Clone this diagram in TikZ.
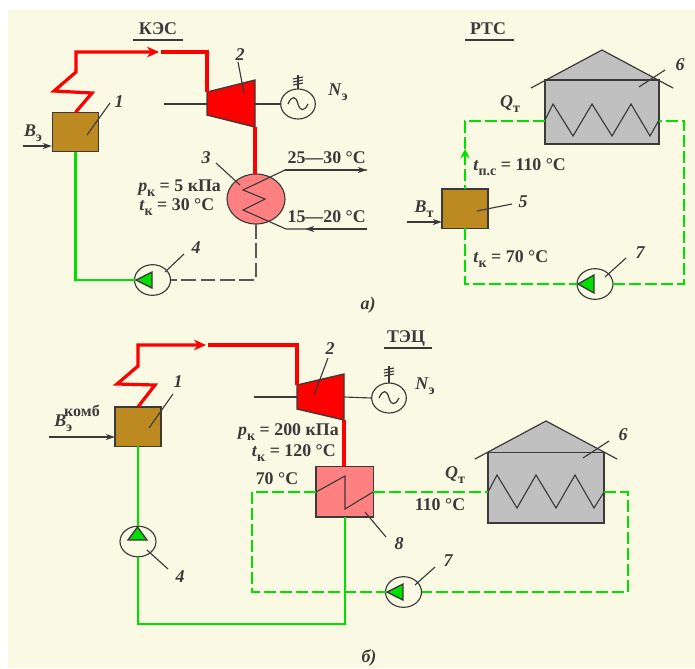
\documentclass[tikz,border=0pt]{standalone}
\usepackage{fontspec}
\setmainfont{Liberation Serif}
\usetikzlibrary{arrows.meta,calc,shapes.geometric}
\definecolor{bgc}{HTML}{FAF9E3}
\definecolor{ink}{HTML}{3A3A3A}
\definecolor{steam}{HTML}{FF0000}
\definecolor{water}{HTML}{00E000}
\definecolor{brownb}{HTML}{BC8A20}
\definecolor{pinkb}{HTML}{FF8080}
\definecolor{greyb}{HTML}{C0C0C0}
\newcommand{\lowtxt}[1]{\smash{\raisebox{-0.26em}{\fontsize{10.5}{10}\selectfont #1}}}
\tikzset{
 boiler/.style={draw=ink,fill=brownb,line width=1pt,minimum width=34.5pt,minimum height=29.5pt,inner sep=0pt,outer sep=0pt},
 pumpc/.style={ellipse,draw=ink,fill=bgc,line width=.85pt,minimum width=27pt,minimum height=23pt,inner sep=0pt,outer sep=0pt},
 genc/.style={ellipse,draw=ink,fill=bgc,line width=.85pt,minimum width=26pt,minimum height=22.5pt,inner sep=0pt,outer sep=0pt},
 tri/.style={draw=ink,fill=water,line width=1pt,line join=miter},
 steamline/.style={draw=steam,line width=2.4pt,line join=miter},
 solidw/.style={draw=water,line width=2.1pt},
 dashw/.style={draw=water,line width=2.1pt,dash pattern=on 9pt off 3pt},
 dashg/.style={draw=ink!85,line width=1.3pt,dash pattern=on 11pt off 3.5pt},
 thinl/.style={draw=ink,line width=.85pt},
 wall/.style={draw=ink,fill=greyb,line width=1pt},
 txt/.style={font=\fontsize{13.4}{15}\selectfont\bfseries,text=ink,inner sep=0pt,align=center},
 num/.style={font=\fontsize{13.5}{15}\selectfont\bfseries\itshape,text=ink,inner sep=0pt},
 flow/.style={-{Stealth[length=7pt,width=4.5pt]}},
}
\begin{document}
\begin{tikzpicture}[x=0.75pt,y=-0.75pt]
\useasboundingbox (0,0) rectangle (695,668);
\fill[white] (0,0) rectangle (695,668);
\fill[bgc] (8,10) rectangle (695,668);

% ===== a) KES =====
\node[txt] (tKES) at (158,29) {КЭС};
\coordinate (uK1) at (133,40); \coordinate (uK2) at (183,40);
\draw[thinl] (uK1) -- (uK2);
\node[boiler] (b1) at (75.5,132) {};
\node[pumpc] (p4) at (152.5,280) {};
\node[genc] (g1) at (298,104) {};
\node[ellipse,draw=ink,fill=pinkb,line width=.85pt,minimum width=43.5pt,minimum height=37.5pt,inner sep=0pt,outer sep=0pt] (c3) at (256,199) {};
% turbine
\coordinate (t1a) at (207,92); \coordinate (t1b) at (255,80); \coordinate (t1c) at (255,127); \coordinate (t1d) at (207,115);
\draw[draw=ink,fill=steam,line width=1pt] (t1a)--(t1b)--(t1c)--(t1d)--cycle;
% steam
\coordinate (s1) at (92,93); \coordinate (s2) at (54,91); \coordinate (s3) at (76,72); \coordinate (s4) at (76,52);
\coordinate (s5) at (159,52); \coordinate (s6) at (161,52); \coordinate (s7) at (207,52);
\draw[steamline,-{Stealth[length=9pt,width=8pt]}] (b1.north) -- (s1) -- (s2) -- (s3) -- (s4) -- (s5);
\draw[steamline] (s6) -- (s7) -- (t1a);
\draw[steamline] (t1c) -- (c3.north -| t1c);
% shaft
\coordinate (sh1) at (164,104); \coordinate (sh1r) at (207,104); \coordinate (sh1s) at (255,104);
\draw[thinl] (sh1) -- (sh1r);
\draw[thinl] (sh1s) -- (g1.west);
% ground
\coordinate (gt1) at (298,75);
\draw[thinl] (g1.north) -- (gt1);
\foreach \yy in {78,81,84} {\draw[thinl] (293,\yy+1) -- (303,\yy-1);}
\draw[thinl,line width=.9pt] (288,104) .. controls (292,95) and (296,96) .. (298,104) .. controls (300,111) and (304,112) .. (308,104);
% condenser
\coordinate (cz1) at (367,170); \coordinate (cz2) at (285,170); \coordinate (cz3) at (243,190); \coordinate (cz4) at (265,199);
\coordinate (cz5) at (243,210); \coordinate (cz6) at (286,229); \coordinate (cz7) at (367,229); \coordinate (czm) at (305,229);
\draw[thinl] (cz7) -- (cz6) -- (cz5) -- (cz4) -- (cz3) -- (cz2) -- (cz1);
\draw[thinl,flow] (cz2) -- (cz1);
\draw[thinl,flow] (cz7) -- (czm);
% water
\draw[solidw] (b1.south) |- (p4.west);
\coordinate (dg) at (256,280);
\draw[dashg] (c3.south -| dg) -- (dg) -- (p4.east);
\coordinate (p4a) at (136,280); \coordinate (p4b) at (152,272); \coordinate (p4c) at (152,288);
\draw[tri] (p4a)--(p4b)--(p4c)--cycle;
% fuel
\coordinate (f1) at (23,146); \coordinate (f1e) at (52,146);
\draw[thinl,flow] (f1) -- (f1e);
\node[txt] at (33,131) (lBe) {\textit{B}\lowtxt{э}};
\node[txt,anchor=east] at (366,158) (l2530) {25—30 °C};
\node[txt,anchor=east] at (366,217) (l1520) {15—20 °C};
\node[txt,anchor=west] at (138,188) (lpk) {\textit{p}\lowtxt{к} = 5 кПа};
\node[txt,anchor=west] at (139,205) (ltk) {\textit{t}\lowtxt{к} = 30 °C};
\node[txt] at (338,90) (lNe) {\textit{N}\lowtxt{э}};
\node[num] at (119,102) (n1a) {1};
\node[num] at (240,55) (n2a) {2};
\node[num] at (206,158) (n3a) {3};
\node[num] at (196,248) (n4a) {4};
\node[num] at (368,305) (na) {а)};
\coordinate (a1) at (110,103); \coordinate (a1e) at (87,135);
\coordinate (a2) at (238,62); \coordinate (a2e) at (244,93);
\coordinate (a3) at (216,163); \coordinate (a3e) at (240,185);
\coordinate (a4) at (184,254); \coordinate (a4e) at (165,272);
\draw[thinl] (a1)--(a1e); \draw[thinl] (a2)--(a2e); \draw[thinl] (a3)--(a3e); \draw[thinl] (a4)--(a4e);

% ===== RTS =====
\node[txt] (tRTS) at (488,29) {РТС};
\coordinate (uR1) at (465,40); \coordinate (uR2) at (514,40);
\draw[thinl] (uR1) -- (uR2);
\fill[greyb] (545,80) -- (602,50) -- (659,80) -- cycle;
\node[wall,minimum width=85.5pt,minimum height=48pt,inner sep=0pt,outer sep=0pt] (h6) at (602,112) {};
\coordinate (r1) at (531,88); \coordinate (r2) at (602,50); \coordinate (r3) at (673,88);
\draw[thinl,line width=.9pt] (r1)--(r2)--(r3);
\draw[thinl] (545,120)--(553,104)--(573,136)--(592,104)--(612,136)--(631,104)--(650,136)--(659,120);
\node[boiler] (b5) at (465,208.5) {};
\node[pumpc] (p7) at (595,284) {};
\coordinate (w1) at (465,121); \coordinate (w1h) at (545,121); \coordinate (w1m) at (465,149); \coordinate (w1b) at (465,160);
\coordinate (w2) at (465,284); \coordinate (w3) at (684,284); \coordinate (w4) at (684,121); \coordinate (w4h) at (659,121);
\draw[dashw] (w1h) -- (w1) -- (b5.north);
\draw[water,line width=2.1pt,-{Stealth[length=7pt,width=7pt]}] (w1b) -- (w1m);
\draw[dashw] (b5.south) -- (w2) -- (p7.west);
\draw[dashw] (p7.east) -- (w3) -- (w4) -- (w4h);
\coordinate (p7a) at (578,284); \coordinate (p7b) at (594,275); \coordinate (p7c) at (594,293);
\draw[tri] (p7a)--(p7b)--(p7c)--cycle;
\coordinate (f5) at (407,222); \coordinate (f5e) at (442,222);
\draw[thinl,flow] (f5) -- (f5e);
\node[txt] at (424,207) (lBt) {\textit{B}\lowtxt{т}};
\node[txt] at (510,103) (lQt) {\textit{Q}\lowtxt{т}};
\node[txt,anchor=west] at (473,165) (ltps) {\textit{t}\lowtxt{п.с} = 110 °C};
\node[txt,anchor=west] at (473,257) (ltk70) {\textit{t}\lowtxt{к} = 70 °C};
\node[num] at (680,65) (n6a) {6};
\node[num] at (523,202) (n5) {5};
\node[num] at (640,253) (n7a) {7};
\coordinate (a6) at (665,70); \coordinate (a6e) at (639,87);
\coordinate (a5) at (512,204); \coordinate (a5e) at (477,211);
\coordinate (a7) at (626,258); \coordinate (a7e) at (605,277);
\draw[thinl] (a6)--(a6e); \draw[thinl] (a5)--(a5e); \draw[thinl] (a7)--(a7e);

% ===== b) TETs =====
\node[txt] (tTEC) at (406,338) {ТЭЦ};
\coordinate (uT1) at (384,348); \coordinate (uT2) at (432,348);
\draw[thinl] (uT1) -- (uT2);
\node[boiler] (b1b) at (138,426.5) {};
\node[pumpc] (p4b) at (138,541.5) {};
\node[genc] (g2) at (389,398) {};
\node[draw=ink,fill=pinkb,line width=1pt,minimum width=43pt,minimum height=38pt,inner sep=0pt,outer sep=0pt] (h8) at (344.5,491.5) {};
\coordinate (t2a) at (297,385); \coordinate (t2b) at (344,374); \coordinate (t2c) at (344,420); \coordinate (t2d) at (297,409);
\draw[draw=ink,fill=steam,line width=1pt] (t2a)--(t2b)--(t2c)--(t2d)--cycle;
\coordinate (q1) at (155,385); \coordinate (q2) at (117,384); \coordinate (q3) at (138,366); \coordinate (q4) at (138,345);
\coordinate (q5) at (206,345); \coordinate (q6) at (208,345); \coordinate (q7) at (297,345);
\draw[steamline,-{Stealth[length=9pt,width=8pt]}] (b1b.north) -- (q1) -- (q2) -- (q3) -- (q4) -- (q5);
\draw[steamline] (q6) -- (q7) -- (t2a);
\draw[steamline] (t2c) -- (h8.north -| t2c);
\coordinate (sh2) at (254,397); \coordinate (sh2r) at (297,397); \coordinate (sh2s) at (344,397);
\draw[thinl] (sh2) -- (sh2r);
\draw[thinl] (sh2s) -- (g2.west);
\coordinate (gt2) at (389,366);
\draw[thinl] (g2.north) -- (gt2);
\foreach \yy in {369,372,375} {\draw[thinl] (384,\yy+1) -- (394,\yy-1);}
\draw[thinl,line width=.9pt] (379,398) .. controls (383,389) and (387,390) .. (389,398) .. controls (391,405) and (395,406) .. (399,398);
% heat exchanger zigzag
\coordinate (hz1) at (316,492); \coordinate (hz2) at (345,476); \coordinate (hz3) at (345,509); \coordinate (hz4) at (373,492);
\draw[thinl] (hz1)--(hz2)--(hz3)--(hz4);
% house
\fill[greyb] (488,452) -- (546,421) -- (604,452) -- cycle;
\node[wall,minimum width=87pt,minimum height=53pt,inner sep=0pt,outer sep=0pt] (h6b) at (546,487.5) {};
\coordinate (rb1) at (475,459); \coordinate (rb2) at (546,421); \coordinate (rb3) at (617,459);
\draw[thinl,line width=.9pt] (rb1)--(rb2)--(rb3);
\draw[thinl] (488,492)--(497,475)--(517,508)--(536,475)--(556,508)--(575,475)--(594,508)--(604,492);
% water
\node[pumpc] (p7b) at (403.5,592) {};
\coordinate (m1) at (138,624); \coordinate (m2) at (345,624); \coordinate (m3) at (345,510.5);
\draw[solidw] (b1b.south) -- (p4b.north);
\draw[solidw] (p4b.south) -- (m1) -- (m2) -- (m3 |- h8.south);
\coordinate (d1) at (316,492); \coordinate (d2) at (252,492); \coordinate (d3) at (252,592);
\coordinate (d4) at (373,492); \coordinate (d5) at (488,492); \coordinate (d6) at (604,492); \coordinate (d7) at (628,492); \coordinate (d8) at (628,592);
\draw[dashw] (d1) -- (d2) -- (d3) -- (p7b.west);
\draw[dashw] (d4) -- (d5);
\draw[dashw] (d6) -- (d7) -- (d8) -- (p7b.east);
\coordinate (p4ba) at (137.5,527); \coordinate (p4bb) at (128,540); \coordinate (p4bc) at (147,540);
\draw[tri] (p4ba)--(p4bb)--(p4bc)--cycle;
\coordinate (p7ba) at (387,592); \coordinate (p7bb) at (403,584); \coordinate (p7bc) at (403,600);
\draw[tri] (p7ba)--(p7bb)--(p7bc)--cycle;
\coordinate (f2) at (49,437); \coordinate (f2e) at (115,437);
\draw[thinl,flow] (f2) -- (f2e);
\node[txt,anchor=west] at (54,421) (lBk) {\textit{B}\lowtxt{э}\smash{\raisebox{.6em}{\kern-.45em\fontsize{12}{13}\selectfont комб}}};
\node[txt] at (425,384) (lNeb) {\textit{N}\lowtxt{э}};
\node[txt,anchor=east] at (339,431.5) (lpk2) {\textit{p}\lowtxt{к} = 200 кПа};
\node[txt,anchor=east] at (336,450.5) (ltk2) {\textit{t}\lowtxt{к} = 120 °C};
\node[txt] at (277,479) (l70) {70 °C};
\node[txt] at (440,505) (l110) {110 °C};
\node[txt] at (455,474) (lQb) {\textit{Q}\lowtxt{т}};
\node[num] at (178,382) (n1b) {1};
\node[num] at (330,349) (n2b) {2};
\node[num] at (180,577) (n4b) {4};
\node[num] at (623,435) (n6b) {6};
\node[num] at (448,561) (n7b) {7};
\node[num] at (399,544) (n8) {8};
\node[num] at (369,658) (nb) {б)};
\coordinate (e1) at (173,394); \coordinate (e1e) at (149,428);
\coordinate (e2) at (328,358); \coordinate (e2e) at (314,395);
\coordinate (e4) at (168,569); \coordinate (e4e) at (147,550);
\coordinate (e6) at (609,441); \coordinate (e6e) at (583,458);
\coordinate (e7) at (435,567); \coordinate (e7e) at (415,585);
\coordinate (e8) at (386,537); \coordinate (e8e) at (365,512);
\draw[thinl] (e1)--(e1e); \draw[thinl] (e2)--(e2e); \draw[thinl] (e4)--(e4e);
\draw[thinl] (e6)--(e6e); \draw[thinl] (e7)--(e7e); \draw[thinl] (e8)--(e8e);
\end{tikzpicture}
\end{document}
